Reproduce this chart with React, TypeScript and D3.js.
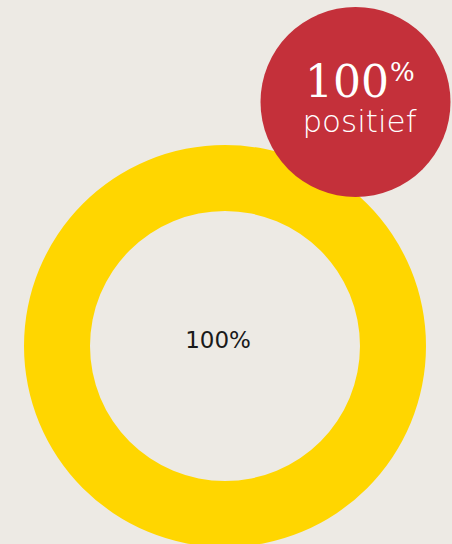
import React from "react";
import * as d3 from "d3";

const categories = ["positief"];
const values = [100];
const centerLabels = ["100%"];
const badgeValue = ["100"];
const badgeUnit = ["%"];
const badgeLabel = ["positief"];

const W = 452;
const H = 544;

export default function App() {
  const cx = 225, cy = 346, rOuter = 201, rInner = 135;
  const pie = d3.pie<number>().sort(null).value((d) => d);
  const arcs = pie(values);
  const arc = d3.arc<d3.PieArcDatum<number>>().innerRadius(rInner).outerRadius(rOuter);
  const colors = d3.scaleOrdinal<string, string>().domain(categories).range(["#FFD600"]);
  const bx = 355.5, by = 102, br = 95;
  return (
    <div style={{ position: "fixed", left: 0, top: 0, width: W, height: H, background: "#EDEAE4" }}>
      <svg width={W} height={H} style={{ display: "block" }}>
        <rect width={W} height={H} fill="#EDEAE4" />
        <g transform={`translate(${cx},${cy})`}>
          {arcs.map((a, i) => (
            <path key={i} d={arc(a) || ""} fill={colors(categories[i])} />
          ))}
          <text x={-7} y={2} textAnchor="middle" fontFamily="DejaVu Sans, sans-serif" fontSize={23} fontWeight={400} fill="#1a1a1a">
            {centerLabels[0]}
          </text>
        </g>
        <circle cx={bx} cy={by} r={br} fill="#C4303A" />
        <text x={305} y={97} textAnchor="start" fill="#fff" fontFamily="DejaVu Serif, serif" fontSize={44}>
          <tspan>{badgeValue[0]}</tspan>
          <tspan fontSize={26} dy={-16} dx={1}>{badgeUnit[0]}</tspan>
        </text>
        <text x={359.5} y={132} textAnchor="middle" fill="#fff" fontFamily="DejaVu Sans, sans-serif" fontSize={31} fontWeight={300}>
          {badgeLabel[0]}
        </text>
      </svg>
    </div>
  );
}
